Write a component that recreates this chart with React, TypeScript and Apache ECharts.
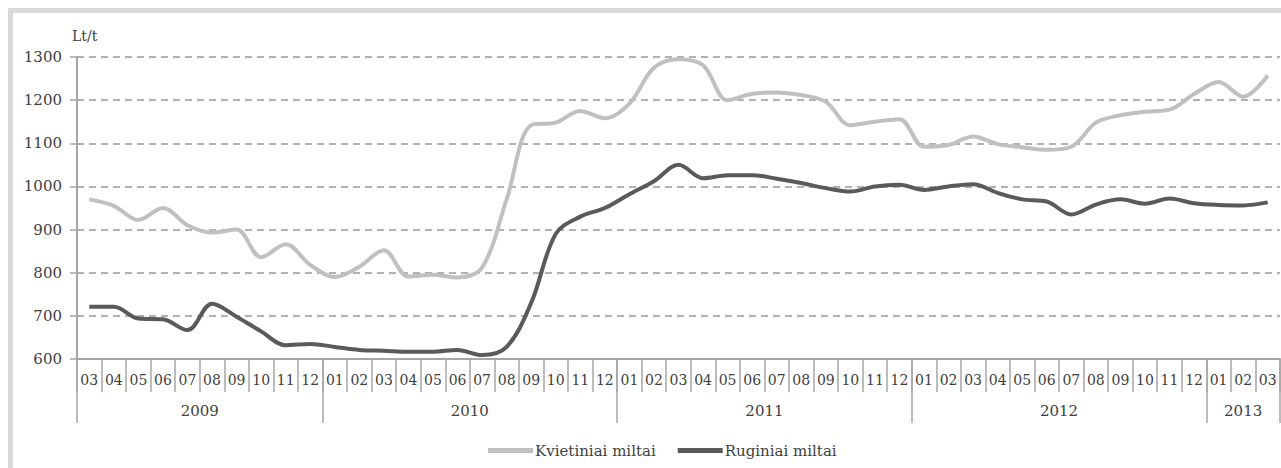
import React, { useEffect, useRef } from "react";
import * as echarts from "echarts";

const months = [
  "2009-03", "2009-04", "2009-05", "2009-06", "2009-07", "2009-08", "2009-09", "2009-10", "2009-11", "2009-12",
  "2010-01", "2010-02", "2010-03", "2010-04", "2010-05", "2010-06", "2010-07", "2010-08", "2010-09", "2010-10", "2010-11", "2010-12",
  "2011-01", "2011-02", "2011-03", "2011-04", "2011-05", "2011-06", "2011-07", "2011-08", "2011-09", "2011-10", "2011-11", "2011-12",
  "2012-01", "2012-02", "2012-03", "2012-04", "2012-05", "2012-06", "2012-07", "2012-08", "2012-09", "2012-10", "2012-11", "2012-12",
  "2013-01", "2013-02", "2013-03",
];

const years = ["2009", "2010", "2011", "2012", "2013"];
const monthsPerYear = [10, 12, 12, 12, 3];

const wheat = [
  970, 955, 922, 950, 910, 893, 900, 836, 866, 818,
  790, 814, 852, 791, 795, 789, 812, 970, 1142, 1148, 1175, 1158,
  1192, 1275, 1295, 1281, 1200, 1215, 1218, 1212, 1196, 1142, 1150, 1156,
  1092, 1096, 1116, 1098, 1091, 1085, 1092, 1148, 1165, 1173, 1178, 1214,
  1242, 1208, 1257,
];

const rye = [
  721, 721, 694, 692, 667, 728, 698, 664, 632, 635,
  628, 621, 619, 617, 617, 621, 609, 628, 730, 890, 930, 950,
  982, 1012, 1050, 1019, 1026, 1026, 1018, 1008, 996, 988, 1000, 1004,
  992, 1000, 1005, 985, 970, 965, 935, 958, 970, 960, 972, 961,
  957, 956, 963,
];

const seriesNames = ["Kvietiniai miltai", "Ruginiai miltai"];
const unitLabel = "Lt/t";

export default function App() {
  const ref = useRef<HTMLDivElement>(null);

  useEffect(() => {
    if (!ref.current) return;
    const chart = echarts.init(ref.current, null, { renderer: "svg" });

    const boundaries: number[] = [0];
    monthsPerYear.forEach((n, i) => boundaries.push(boundaries[i] + n));
    const centers = years.map((_, i) => (boundaries[i] + boundaries[i + 1]) / 2);
    const total = boundaries[boundaries.length - 1];

    const font = "DejaVu Serif";
    const textColor = "#404040";
    const axisColor = "#a6a6a6";

    chart.setOption({
      animation: false,
      graphic: [
        {
          type: "rect",
          shape: { x: 10.5, y: 10.5, width: 1400, height: 600 },
          style: { fill: "none", stroke: "#d9d9d9", lineWidth: 5 },
          silent: true,
          z: -10,
        },
      ],
      grid: { left: 77, right: 1, top: 57, bottom: 109, containLabel: false },
      legend: {
        left: 488,
        top: 443,
        padding: 0,
        icon: "rect",
        itemWidth: 45,
        itemHeight: 5,
        itemGap: 22,
        textStyle: { fontFamily: font, fontSize: 15, color: textColor, padding: [0, 0, 0, -3] },
        data: seriesNames,
      },
      xAxis: [
        {
          type: "category",
          data: months,
          boundaryGap: true,
          axisLine: { show: true, lineStyle: { color: axisColor, width: 2 } },
          axisTick: { show: true, interval: 0, length: 33, lineStyle: { color: axisColor, width: 1.5 } },
          axisLabel: {
            interval: 0,
            margin: 14,
            fontFamily: font,
            fontSize: 14,
            color: textColor,
            formatter: (v: string) => v.slice(5),
          },
          splitLine: { show: false },
        },
        {
          type: "value",
          min: 0,
          max: total,
          position: "bottom",
          axisLine: { show: false },
          axisTick: {
            show: true,
            length: 64,
            customValues: boundaries,
            lineStyle: { color: axisColor, width: 1.5 },
          },
          axisLabel: {
            show: true,
            margin: 44,
            customValues: centers,
            fontFamily: font,
            fontSize: 15,
            color: textColor,
            formatter: (v: number) => {
              const idx = centers.findIndex((c) => Math.abs(c - v) < 0.01);
              return idx >= 0 ? years[idx] : "";
            },
          },
          splitLine: { show: false },
        },
      ],
      yAxis: {
        type: "value",
        min: 600,
        max: 1300,
        interval: 100,
        name: unitLabel,
        nameLocation: "end",
        nameGap: 14,
        nameTextStyle: { fontFamily: font, fontSize: 14, color: textColor, align: "left", padding: [0, 0, 0, -5] },
        axisLine: { show: true, lineStyle: { color: axisColor, width: 2 } },
        axisTick: { show: true, length: 7, lineStyle: { color: axisColor, width: 1.5 } },
        axisLabel: {
          margin: 15,
          fontFamily: font,
          fontSize: 15,
          color: textColor,
          formatter: (v: number) => String(v),
        },
        splitLine: { show: true, lineStyle: { color: "#999999", width: 1.5, type: [7, 5] } },
      },
      series: [
        {
          name: seriesNames[0],
          type: "line",
          data: wheat,
          smooth: 0.35,
          showSymbol: false,
          lineStyle: { color: "#c0c0c0", width: 4 },
          itemStyle: { color: "#c0c0c0" },
          z: 3,
        },
        {
          name: seriesNames[1],
          type: "line",
          data: rye,
          smooth: 0.35,
          showSymbol: false,
          lineStyle: { color: "#5a5a5a", width: 4 },
          itemStyle: { color: "#5a5a5a" },
          z: 4,
        },
      ],
    });

    return () => chart.dispose();
  }, []);

  return (
    <div
      ref={ref}
      style={{ position: "fixed", left: 0, top: 0, width: 1281, height: 468, background: "#ffffff" }}
    />
  );
}
